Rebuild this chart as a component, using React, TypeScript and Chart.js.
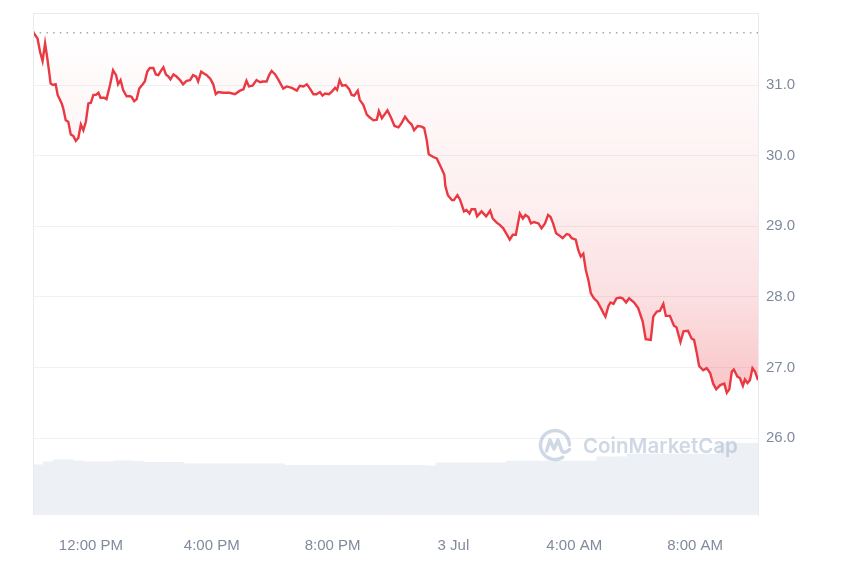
import React, { useEffect, useRef } from 'react';
import { Chart, registerables } from 'chart.js';

Chart.register(...registerables);

// minutes elapsed since 10:05 AM (2 Jul)
const minutes = [0,9,14,19,24,28,32,35,40,45,49,57,60,65,70,75,80,85,90,95,100,105,110,115,120,125,130,134,141,146,153,159,165,169,174,179,186,193,196,201,206,211,218,222,227,232,239,244,249,254,259,264,269,273,279,285,292,298,305,312,318,324,328,334,338,345,352,358,363,368,378,390,
401,411,418,424,429,436,444,451,457,464,469,474,481,487,497,504,514,524,530,537,544,550,557,563,570,575,580,588,594,600,604,609,614,621,628,633,638,645,649,656,663,669,676,683,687,693,698,704,711,718,726,732,739,745,752,757,764,772,777,782,786,795,802,810,817,
819,824,832,836,843,848,856,861,867,871,878,882,891,900,908,913,921,927,934,939,947,953,959,967,973,978,984,989,995,1004,1010,1017,1023,1028,1033,1039,1047,1052,1060,1065,1070,1078,1083,1088,1093,1098,1103,1108,1114,1121,1128,1133,1137,1143,1147,1153,1159,1166,1171,1178,1184,
1194,1202,1211,1217,1227,1232,1239,1245,1252,1257,1265,1273,1278,1286,1292,1301,1308,1313,1318,1323,1331,1338,1345,1351,1357,1365,1373,1378,1383,1388,1392,1399,1404,1410,1414,1419,1424,1429,1434,1440];

const prices = [31.75,31.66,31.47,31.34,31.59,31.40,31.19,31.02,31.00,31.01,30.86,30.74,30.67,30.50,30.48,30.30,30.28,30.21,30.25,30.44,30.36,30.48,30.74,30.75,30.86,30.86,30.89,30.82,30.82,30.80,31.00,31.21,31.14,31.01,31.07,30.93,30.84,30.84,30.83,30.77,30.80,30.95,31.01,31.05,31.19,31.24,31.24,31.15,31.14,31.20,31.25,31.15,31.12,31.08,31.15,31.12,31.07,31.01,31.06,31.07,31.14,31.12,31.05,31.19,31.17,31.14,31.09,31.01,30.87,30.90,30.89,30.89,
30.87,30.92,30.94,31.06,30.98,30.99,31.07,31.04,31.05,31.05,31.14,31.20,31.15,31.08,30.95,30.98,30.96,30.92,30.99,30.98,31.01,30.95,30.87,30.87,30.90,30.85,30.88,30.87,30.91,30.96,30.93,31.07,30.99,31.00,30.94,30.86,30.85,30.92,30.79,30.72,30.58,30.54,30.50,30.51,30.63,30.53,30.58,30.64,30.54,30.42,30.40,30.46,30.55,30.49,30.44,30.36,30.42,30.41,30.39,30.22,30.02,29.98,29.96,29.84,29.73,
29.57,29.44,29.37,29.37,29.44,29.38,29.21,29.23,29.18,29.24,29.24,29.14,29.21,29.14,29.22,29.11,29.05,29.02,28.97,28.91,28.81,28.88,28.88,29.18,29.11,29.16,29.13,29.04,29.06,29.04,28.97,29.04,29.16,29.13,29.04,28.90,28.86,28.83,28.89,28.88,28.83,28.81,28.66,28.57,28.61,28.38,28.24,28.05,27.98,27.93,27.84,27.77,27.72,27.87,27.92,27.90,27.98,27.99,27.98,27.92,27.98,
27.92,27.84,27.65,27.40,27.39,27.72,27.79,27.80,27.90,27.73,27.73,27.59,27.57,27.36,27.51,27.52,27.41,27.39,27.22,27.02,26.96,26.99,26.92,26.77,26.69,26.75,26.77,26.64,26.69,26.94,26.97,26.87,26.85,26.74,26.83,26.78,26.82,26.99,26.94,26.82];

const openPrice = 31.74;

// volume per 20-minute bucket (arbitrary units, M)
const volumes = [10.0,10.6,11.0,11.0,10.8,10.6,10.6,10.6,10.8,10.8,10.7,10.5,10.5,10.5,10.5,
10.2,10.2,10.2,10.2,10.2,10.2,10.2,10.2,10.2,10.2,
9.9,9.9,9.9,9.9,9.9,9.9,9.9,9.9,9.9,9.9,9.9,9.9,9.9,9.9,
9.8,
10.4,10.4,10.4,10.4,10.4,10.4,10.4,
10.75,10.75,10.75,10.75,10.75,10.75,10.75,10.75,10.75,
11.6,11.6,11.6,
12.15,12.15,12.15,12.15,12.15,12.15,12.15,12.15,12.15,
14.3,14.3,14.3,14.3];
const volumeBucketMinutes = 20;

const xTickMinutes = [115, 355, 595, 835, 1075, 1315];
const xTickLabels = ['12:00 PM', '4:00 PM', '8:00 PM', '3 Jul', '4:00 AM', '8:00 AM'];
const yTicks = [26, 27, 28, 29, 30, 31];

const LABEL_COLOR = '#808a9d';
const FONT = "'Liberation Sans', Arial, sans-serif";

const framePlugin = {
  id: 'frame',
  afterDatasetsDraw(chart: any) {
    const { ctx } = chart;
    ctx.save();
    // watermark
    const cx = 555, cy = 445;
    ctx.strokeStyle = 'rgba(160,177,204,0.5)';
    ctx.fillStyle = 'rgba(160,177,204,0.5)';
    ctx.lineWidth = 3.4;
    ctx.lineCap = 'round';
    ctx.lineJoin = 'round';
    ctx.beginPath();
    ctx.arc(cx, cy, 14.5, 0.32 * Math.PI, 2.0 * Math.PI, false);
    ctx.stroke();
    ctx.beginPath();
    ctx.moveTo(cx - 8.5, cy + 6);
    ctx.lineTo(cx - 5, cy - 5);
    ctx.lineTo(cx - 1, cy + 4);
    ctx.lineTo(cx + 3, cy - 5);
    ctx.lineTo(cx + 6.5, cy + 5);
    ctx.quadraticCurveTo(cx + 9, cy + 10, cx + 14.5, cy + 4.5);
    ctx.stroke();
    ctx.font = "600 20.5px Inter, 'Liberation Sans', sans-serif";
    ctx.textBaseline = 'middle';
    ctx.textAlign = 'left';
    ctx.fillText('CoinMarketCap', 583, 447);
    ctx.restore();
  },
  afterDraw(chart: any) {
    const { ctx, chartArea } = chart;
    const { left, top, right, bottom } = chartArea;
    ctx.save();
    ctx.strokeStyle = '#e8ebef';
    ctx.lineWidth = 1;
    ctx.beginPath();
    ctx.moveTo(left + 0.5, bottom);
    ctx.lineTo(left + 0.5, top + 0.5);
    ctx.lineTo(right, top + 0.5);
    ctx.stroke();
    ctx.restore();
  },
};

export default function App() {
  const canvasRef = useRef<HTMLCanvasElement | null>(null);

  useEffect(() => {
    const canvas = canvasRef.current;
    if (!canvas) return;
    const n = Math.min(minutes.length, prices.length);
    const pricePoints = [] as { x: number; y: number }[];
    for (let i = 0; i < n; i++) pricePoints.push({ x: minutes[i], y: prices[i] });
    const volPoints = volumes.map((v, i) => ({ x: i * volumeBucketMinutes + volumeBucketMinutes / 2, y: v }));

    const chart = new Chart(canvas, {
      type: 'line',
      data: {
        datasets: [
          {
            type: 'line',
            data: pricePoints,
            yAxisID: 'y',
            borderColor: '#ea3943',
            borderWidth: 2.4,
            tension: 0,
            pointRadius: (c: any) => (c.dataIndex === 0 ? 1.6 : 0),
            pointBackgroundColor: '#16c784',
            pointBorderWidth: 0,
            fill: { value: openPrice },
            backgroundColor: (c: any) => {
              const { chart: ch } = c;
              const area = ch.chartArea;
              if (!area) return 'rgba(234,57,67,0.1)';
              const g = ch.ctx.createLinearGradient(0, area.top, 0, area.bottom);
              g.addColorStop(0.0, 'rgba(234,57,67,0.0)');
              g.addColorStop(0.04, 'rgba(234,57,67,0.0)');
              g.addColorStop(0.17, 'rgba(234,57,67,0.035)');
              g.addColorStop(0.37, 'rgba(234,57,67,0.08)');
              g.addColorStop(0.57, 'rgba(234,57,67,0.16)');
              g.addColorStop(0.75, 'rgba(234,57,67,0.29)');
              g.addColorStop(1.0, 'rgba(234,57,67,0.35)');
              return g;
            },
            order: 0,
          } as any,
          {
            type: 'line',
            data: [
              { x: 0, y: openPrice },
              { x: 1440, y: openPrice },
            ],
            yAxisID: 'y',
            borderColor: '#a3a8b0',
            borderWidth: 1.5,
            borderDash: [1.5, 5.2],
            pointRadius: 0,
            fill: false,
            order: 1,
          } as any,
          {
            type: 'bar',
            data: volPoints,
            yAxisID: 'yv',
            backgroundColor: '#edf0f4',
            borderWidth: 0,
            barPercentage: 1,
            categoryPercentage: 1,
            order: 2,
          } as any,
        ],
      },
      options: {
        responsive: false,
        animation: false,
        devicePixelRatio: 1,
        layout: { padding: { left: 33, top: 13, right: 0, bottom: 0 } },
        plugins: { legend: { display: false }, tooltip: { enabled: false } },
        scales: {
          x: {
            type: 'linear',
            min: 0,
            max: 1440,
            offset: false,
            grid: { display: false, drawTicks: false, offset: false },
            border: { display: false },
            afterBuildTicks: (s: any) => {
              s.ticks = xTickMinutes.map((v) => ({ value: v }));
            },
            afterFit: (s: any) => {
              s.height = 52;
              s.paddingLeft = 0;
              s.paddingRight = 0;
            },
            ticks: {
              autoSkip: false,
              maxRotation: 0,
              padding: 22,
              color: LABEL_COLOR,
              font: { family: FONT, size: 15 },
              callback: (v: any) => {
                const idx = xTickMinutes.indexOf(Number(v));
                return idx >= 0 ? xTickLabels[idx] : '';
              },
            },
          },
          y: {
            type: 'linear',
            position: 'right',
            min: 24.91,
            max: 32.02,
            afterBuildTicks: (s: any) => {
              s.ticks = yTicks.map((v) => ({ value: v }));
            },
            afterFit: (s: any) => {
              s.width = 92;
              s.paddingTop = 0;
              s.paddingBottom = 0;
            },
            grid: { color: '#eff1f4', drawTicks: false, lineWidth: 1 },
            border: { display: true, color: '#e8ebef' },
            ticks: {
              padding: 8,
              color: LABEL_COLOR,
              font: { family: FONT, size: 15 },
              callback: (v: any) => Number(v).toFixed(1),
            },
          },
          yv: {
            type: 'linear',
            display: false,
            min: 0,
            max: 100,
          },
        },
      } as any,
      plugins: [framePlugin],
    });

    return () => chart.destroy();
  }, []);

  return (
    <div style={{ position: 'fixed', left: 0, top: 0, width: 850, height: 567, background: '#fff' }}>
      <canvas ref={canvasRef} width={850} height={567} style={{ width: 850, height: 567, display: 'block' }} />
    </div>
  );
}
